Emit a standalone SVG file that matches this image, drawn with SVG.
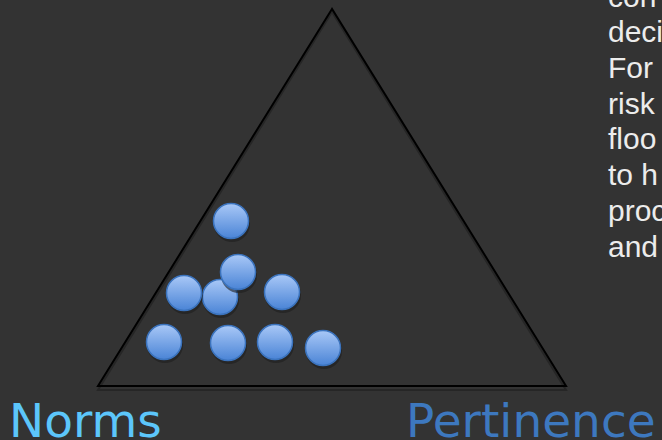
<svg xmlns="http://www.w3.org/2000/svg" width="662" height="440" viewBox="0 0 662 440">
  <style>
    .body { font-family: "Liberation Sans", Arial, sans-serif; font-size: 30px; fill: #ececec; }
    .label { font-family: "DejaVu Sans", sans-serif; font-size: 47px; }
    .ball { fill: url(#ballGrad); stroke: #3b73bd; stroke-width: 1.5; }
    .shadow { fill: #1e1e1e; opacity: 0.6; }
  </style>
  <defs>
    <linearGradient id="ballGrad" x1="0" y1="0" x2="0" y2="1">
      <stop offset="0" stop-color="#a9c8f7"/>
      <stop offset="1" stop-color="#4a84d6"/>
    </linearGradient>
  </defs>
  <rect x="0" y="0" width="662" height="440" fill="#333333"/>

  <g id="triangle">
    <polygon points="332,10 98,388 566,388" fill="none" stroke="#262626" stroke-width="2" transform="translate(0,2)"/>
    <polygon points="332,9 98,386 566,386" fill="none" stroke="#000000" stroke-width="2"/>
  </g>

  <g id="balls">
    <g id="ball1"><circle class="shadow" cx="232" cy="224" r="18"/><circle class="ball" cx="231" cy="221" r="17.5"/></g>
    <g id="ball4"><circle class="shadow" cx="221" cy="300" r="18"/><circle class="ball" cx="220" cy="297" r="17.5"/></g>
    <g id="ball2"><circle class="shadow" cx="239" cy="275" r="18"/><circle class="ball" cx="238" cy="272" r="17.5"/></g>
    <g id="ball3"><circle class="shadow" cx="185" cy="296" r="18"/><circle class="ball" cx="184" cy="293" r="17.5"/></g>
    <g id="ball5"><circle class="shadow" cx="283" cy="295" r="18"/><circle class="ball" cx="282" cy="292" r="17.5"/></g>
    <g id="ball6"><circle class="shadow" cx="165" cy="345" r="18"/><circle class="ball" cx="164" cy="342" r="17.5"/></g>
    <g id="ball7"><circle class="shadow" cx="229" cy="346" r="18"/><circle class="ball" cx="228" cy="343" r="17.5"/></g>
    <g id="ball8"><circle class="shadow" cx="276" cy="345" r="18"/><circle class="ball" cx="275" cy="342" r="17.5"/></g>
    <g id="ball9"><circle class="shadow" cx="324" cy="351" r="18"/><circle class="ball" cx="323" cy="348" r="17.5"/></g>
  </g>

  <g id="side-text" class="body">
    <text x="608" y="6.6">con</text>
    <text x="608" y="42.3">deci</text>
    <text x="608" y="78">For</text>
    <text x="608" y="113.7">risk</text>
    <text x="608" y="149.4">floo</text>
    <text x="608" y="185.1">to h</text>
    <text x="608" y="220.8">proc</text>
    <text x="608" y="256.5">and</text>
  </g>

  <g id="norms"><text class="label" x="9" y="437" fill="#5cc6fb">Norms</text></g>
  <g id="pertinence"><text class="label" x="406" y="437" fill="#3d78bf">Pertinence</text></g>
</svg>
